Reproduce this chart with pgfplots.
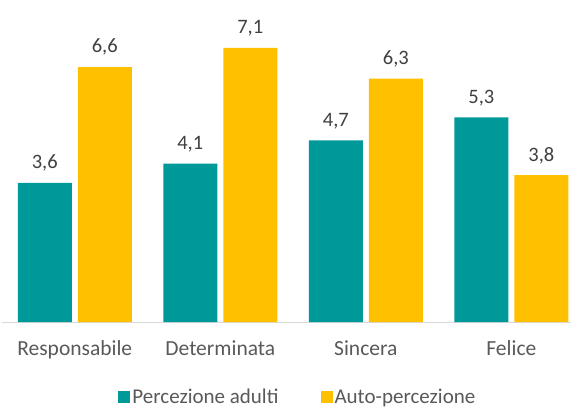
\documentclass[border=0pt]{standalone}
\usepackage{pgfplots}
\pgfplotsset{compat=1.18}
\usepackage{fontspec}
\setmainfont{Carlito}
\definecolor{teal1}{HTML}{009999}
\definecolor{gold1}{HTML}{FFC000}
\definecolor{txt}{HTML}{595959}
\definecolor{lbl}{HTML}{404040}
\definecolor{axl}{HTML}{D9D9D9}
\begin{document}
\begin{tikzpicture}
\path[use as bounding box] (0,0) rectangle (572pt,410pt);
\begin{axis}[
  at={(2pt,88pt)}, anchor=south west,
  scale only axis, width=569pt, height=309pt,
  ybar, bar width=54pt,
  xmin=-0.5, xmax=3.41, ymin=0, ymax=8,
  xtick=data, xticklabels={Responsabile,Determinata,Sincera,Felice},
  ytick=\empty,
  axis x line*=bottom, axis y line=none,
  x axis line style={draw=axl, line width=1pt},
  major tick length=0pt,
  xticklabel style={font=\fontsize{21.5}{25}\selectfont, text=txt, yshift=-15pt},
  nodes near coords,
  nodes near coords style={font=\fontsize{20.5}{24}\selectfont, text=lbl, yshift=8pt},
  /pgf/number format/.cd, use comma, fixed, fixed zerofill, precision=1, assume math mode=true,
  /pgfplots/.cd,
  legend columns=2,
  legend style={at={(axis description cs:0.52,-0.243)}, anchor=center, draw=none, fill=none,
    font=\fontsize{21}{25}\selectfont, text=txt,
    /tikz/every even column/.append style={column sep=40pt}},
  legend image code/.code={\fill[#1] (0pt,-6pt) rectangle (12pt,6pt);},
]
\addplot[fill=teal1, draw=none, bar shift=-30pt] coordinates {(0,3.6) (1,4.1) (2,4.7) (3,5.3)};
\addplot[fill=gold1, draw=none, bar shift=30pt] coordinates {(0,6.6) (1,7.1) (2,6.3) (3,3.8)};
\legend{Percezione adulti, Auto-percezione}
\end{axis}
\end{tikzpicture}
\end{document}
